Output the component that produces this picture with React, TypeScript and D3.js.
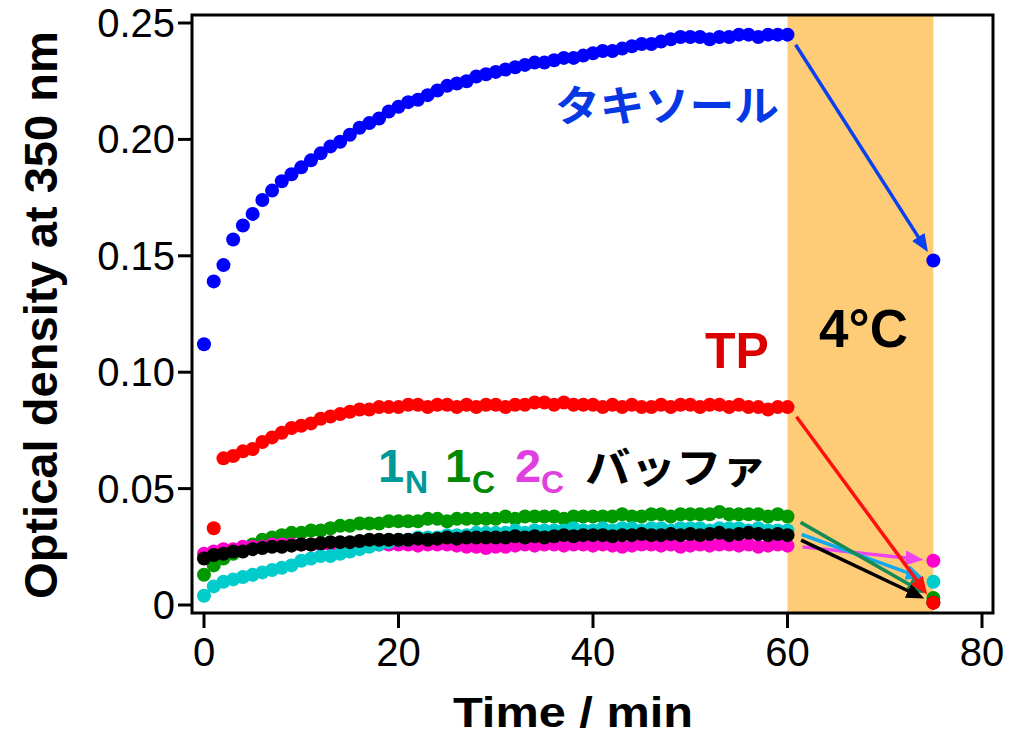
import React from 'react';
import * as d3 from 'd3';

const WIDTH = 1023;
const HEIGHT = 739;
const FRAME = { left: 192, right: 993, top: 15, bottom: 613 };
const FONT = "'Liberation Sans', Arial, sans-serif";
const JP_FONT = "'Noto Sans CJK JP', sans-serif";

// sampling times (min); last point is after the 4°C step
const TIME = [
  0, 1, 2, 3, 4, 5, 6, 7, 8, 9,
  10, 11, 12, 13, 14, 15, 16, 17, 18, 19,
  20, 21, 22, 23, 24, 25, 26, 27, 28, 29,
  30, 31, 32, 33, 34, 35, 36, 37, 38, 39,
  40, 41, 42, 43, 44, 45, 46, 47, 48, 49,
  50, 51, 52, 53, 54, 55, 56, 57, 58, 59,
  60, 75,
];

const TAXOL = [
  0.112, 0.139, 0.146, 0.157, 0.163, 0.168, 0.174, 0.178, 0.182, 0.185,
  0.188, 0.191, 0.194, 0.197, 0.199, 0.202, 0.205, 0.207, 0.209, 0.212,
  0.214, 0.216, 0.217, 0.219, 0.221, 0.223, 0.224, 0.225, 0.227, 0.228,
  0.229, 0.230, 0.231, 0.232, 0.233, 0.233, 0.234, 0.235, 0.235, 0.236,
  0.237, 0.238, 0.238, 0.239, 0.240, 0.241, 0.241, 0.242, 0.243, 0.244,
  0.244, 0.244, 0.243, 0.244, 0.244, 0.245, 0.245, 0.244, 0.245, 0.245,
  0.245, 0.148,
];

const TP = [
  null, 0.033, 0.063, 0.064, 0.066, 0.067, 0.070, 0.072, 0.074, 0.076,
  0.077, 0.078, 0.080, 0.081, 0.082, 0.083, 0.084, 0.084, 0.085, 0.085,
  0.085, 0.086, 0.086, 0.085, 0.086, 0.086, 0.085, 0.086, 0.085, 0.086,
  0.086, 0.085, 0.086, 0.086, 0.087, 0.087, 0.086, 0.087, 0.086, 0.086,
  0.086, 0.085, 0.086, 0.085, 0.086, 0.085, 0.085, 0.086, 0.085, 0.086,
  0.086, 0.085, 0.086, 0.086, 0.085, 0.086, 0.085, 0.085, 0.084, 0.085,
  0.085, 0.001,
];

const ONE_C = [
  0.013, 0.017, 0.020, 0.022, 0.024, 0.026, 0.028, 0.029, 0.030, 0.031,
  0.031, 0.032, 0.032, 0.033, 0.034, 0.034, 0.035, 0.035, 0.035, 0.036,
  0.036, 0.036, 0.036, 0.037, 0.037, 0.036, 0.037, 0.037, 0.037, 0.037,
  0.037, 0.038, 0.037, 0.038, 0.038, 0.038, 0.038, 0.037, 0.038, 0.038,
  0.038, 0.038, 0.038, 0.039, 0.038, 0.038, 0.039, 0.039, 0.038, 0.039,
  0.039, 0.039, 0.039, 0.040, 0.039, 0.039, 0.039, 0.039, 0.038, 0.039,
  0.038, 0.003,
];

const TWO_C = [
  0.022, 0.023, 0.024, 0.024, 0.025, 0.025, 0.025, 0.026, 0.026, 0.026,
  0.026, 0.026, 0.026, 0.026, 0.0265, 0.026, 0.026, 0.026, 0.026, 0.026,
  0.026, 0.026, 0.0255, 0.026, 0.026, 0.026, 0.0255, 0.025, 0.025, 0.0245,
  0.025, 0.025, 0.0255, 0.026, 0.0255, 0.026, 0.026, 0.0255, 0.026, 0.026,
  0.0255, 0.026, 0.0255, 0.025, 0.0255, 0.026, 0.026, 0.0255, 0.026, 0.025,
  0.0255, 0.026, 0.0255, 0.026, 0.026, 0.0255, 0.026, 0.025, 0.0255, 0.026,
  0.0255, 0.019,
];

const ONE_N = [
  0.004, 0.008, 0.010, 0.011, 0.012, 0.013, 0.014, 0.015, 0.016, 0.017,
  0.019, 0.020, 0.021, 0.021, 0.022, 0.023, 0.024, 0.025, 0.026, 0.027,
  0.028, 0.028, 0.029, 0.029, 0.029, 0.030, 0.030, 0.030, 0.031, 0.031,
  0.031, 0.031, 0.032, 0.031, 0.032, 0.032, 0.032, 0.032, 0.033, 0.032,
  0.032, 0.033, 0.032, 0.033, 0.033, 0.032, 0.033, 0.033, 0.032, 0.033,
  0.033, 0.033, 0.032, 0.033, 0.033, 0.033, 0.032, 0.033, 0.032, 0.032,
  0.032, 0.010,
];

const BUFFER = [
  0.020, 0.0215, 0.022, 0.023, 0.023, 0.024, 0.0245, 0.025, 0.025, 0.0255,
  0.026, 0.026, 0.0265, 0.027, 0.027, 0.027, 0.0275, 0.028, 0.028, 0.028,
  0.028, 0.028, 0.0285, 0.028, 0.0285, 0.029, 0.0285, 0.029, 0.029, 0.029,
  0.029, 0.029, 0.0295, 0.029, 0.0295, 0.029, 0.0295, 0.030, 0.0295, 0.030,
  0.030, 0.030, 0.0295, 0.030, 0.030, 0.0305, 0.030, 0.030, 0.0305, 0.030,
  0.0305, 0.030, 0.0305, 0.031, 0.030, 0.0305, 0.031, 0.0305, 0.030, 0.0305,
  0.030, 0.001,
];

const X_TICKS = [0, 20, 40, 60, 80];
const Y_TICKS = [0, 0.05, 0.1, 0.15, 0.2, 0.25];
const Y_TICK_LABELS = ['0', '0.05', '0.10', '0.15', '0.20', '0.25'];
const COLD_RANGE = [60, 75];

// drawn bottom to top
const SERIES = [
  { key: 'onec', values: ONE_C, color: '#009900', arrow: '#148a55' },
  { key: 'twoc', values: TWO_C, color: '#ff00cc', arrow: '#ee44ee' },
  { key: 'onen', values: ONE_N, color: '#00cccc', arrow: '#12a8ee' },
  { key: 'buffer', values: BUFFER, color: '#000000', arrow: '#000000' },
  { key: 'tp', values: TP, color: '#ff0000', arrow: '#ff1010' },
  { key: 'taxol', values: TAXOL, color: '#0000ff', arrow: '#0a40f0' },
];
const ARROW_ORDER = ['taxol', 'twoc', 'onen', 'onec', 'buffer', 'tp'];

export default function App() {
  const x = d3.scaleLinear().domain([0, 80]).range([204, 982]);
  const y = d3.scaleLinear().domain([0, 0.25]).range([605, 23]);
  const i60 = TIME.indexOf(COLD_RANGE[0]);
  const i75 = TIME.indexOf(COLD_RANGE[1]);

  const arrows = ARROW_ORDER.map(k => {
    const s = SERIES.find(d => d.key === k)!;
    const x0 = x(TIME[i60]), y0 = y(s.values[i60] as number);
    const x1 = x(TIME[i75]), y1 = y(s.values[i75] as number);
    const len = Math.hypot(x1 - x0, y1 - y0);
    const ux = (x1 - x0) / len, uy = (y1 - y0) / len;
    return {
      key: k,
      color: s.arrow,
      x1: x0 + 15 * ux, y1: y0 + 12 * uy,
      x2: x1 - 20 * ux, y2: y1 - 20 * uy,
    };
  });

  return (
    <svg width={WIDTH} height={HEIGHT} style={{ position: 'absolute', left: 0, top: 0, background: '#fff' }}>
      <defs>
        {arrows.map(a => (
          <marker key={a.key} id={`ah-${a.key}`} markerUnits="userSpaceOnUse"
            markerWidth={18} markerHeight={15} viewBox="0 0 18 15" refX={8} refY={7.5} orient="auto">
            <path d="M0,0L18,7.5L0,15z" fill={a.color} />
          </marker>
        ))}
      </defs>

      {/* 4°C band */}
      <rect x={x(COLD_RANGE[0])} y={FRAME.top} width={x(COLD_RANGE[1]) - x(COLD_RANGE[0])}
        height={FRAME.bottom - FRAME.top} fill="#fecc77" />

      {arrows.map(a => (
        <line key={a.key} x1={a.x1} y1={a.y1} x2={a.x2} y2={a.y2} stroke={a.color}
          strokeWidth={3.5} markerEnd={`url(#ah-${a.key})`} />
      ))}

      {SERIES.map(s => (
        <g key={s.key} fill={s.color}>
          {s.values.map((v, i) => v == null ? null : (
            <circle key={i} cx={x(TIME[i])} cy={y(v)} r={7} />
          ))}
        </g>
      ))}

      {/* frame */}
      <rect x={FRAME.left} y={FRAME.top} width={FRAME.right - FRAME.left} height={FRAME.bottom - FRAME.top}
        fill="none" stroke="#000" strokeWidth={3} />

      {/* axes */}
      <g fontFamily={FONT} fontSize={40} fill="#000">
        {Y_TICKS.map((t, i) => (
          <g key={t}>
            <line x1={FRAME.left - 14} x2={FRAME.left} y1={y(t)} y2={y(t)} stroke="#000" strokeWidth={3} />
            <text x={175} y={y(t) + 14} textAnchor="end">{Y_TICK_LABELS[i]}</text>
          </g>
        ))}
        {X_TICKS.map(t => (
          <g key={t}>
            <line x1={x(t)} x2={x(t)} y1={FRAME.bottom} y2={FRAME.bottom + 15} stroke="#000" strokeWidth={3} />
            <text x={x(t)} y={666} textAnchor="middle">{t}</text>
          </g>
        ))}
      </g>

      <text x={573} y={727} textAnchor="middle" fontFamily={FONT} fontWeight="bold" fontSize={42}
        textLength={240} lengthAdjust="spacingAndGlyphs">Time / min</text>
      <text transform="translate(57,315) rotate(-90)" textAnchor="middle" fontFamily={FONT}
        fontWeight="bold" fontSize={46} textLength={568} lengthAdjust="spacingAndGlyphs">Optical density at 350 nm</text>

      {/* annotations */}
      <text x={555} y={121} fontFamily={JP_FONT} fontWeight="bold" fontSize={42} fill="#0538e4"
        textLength={224} lengthAdjust="spacingAndGlyphs">タキソール</text>
      <text x={705} y={368} fontFamily={FONT} fontWeight="bold" fontSize={50} fill="#dd0000">TP</text>
      <text x={819} y={347} fontFamily={FONT} fontWeight="bold" fontSize={53} fill="#000">4°C</text>

      <g fontFamily={FONT} fontWeight="bold">
        <text x={378} y={482} fontSize={47} fill="#009999">1</text>
        <text x={405} y={493} fontSize={32} fill="#009999">N</text>
        <text x={445} y={482} fontSize={47} fill="#008800">1</text>
        <text x={472} y={493} fontSize={32} fill="#008800">C</text>
        <text x={515} y={482} fontSize={47} fill="#e040e0">2</text>
        <text x={541} y={493} fontSize={32} fill="#e040e0">C</text>
      </g>
      <text x={585} y={483} fontFamily={JP_FONT} fontWeight="bold" fontSize={42} fill="#000"
        textLength={182} lengthAdjust="spacingAndGlyphs">バッファ</text>
    </svg>
  );
}
